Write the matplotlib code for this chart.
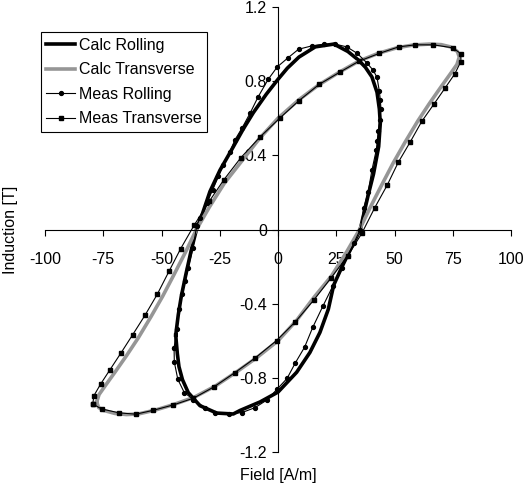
import matplotlib
matplotlib.use("Agg")
import matplotlib.pyplot as plt

plt.rcParams['font.family'] = ['Liberation Sans', 'DejaVu Sans']

# calculated loop, rolling direction (H in A/m, B in T)
calc_roll_h = [-43.9, -43.2, -42.5, -41.0, -38.5, -33.5, -26.3, -19.2, -16.3, -7.7, 0.0, 8.0, 13.7,
               18.0, 21.6, 23.9, 27.5, 31.0, 35.3, 38.6, 41.0, 43.2, 43.9, 43.5, 42.5, 40.3,
               37.5, 34.6, 30.0, 24.0, 16.0, 9.0, 4.0, 0.0, -5.0, -10.6, -15.0, -19.9, -24.9,
               -29.2, -32.7, -35.0, -37.2, -39.5, -41.5, -42.8, -43.9]
calc_roll_b = [-0.57, -0.67, -0.74, -0.81, -0.88, -0.95, -0.99, -0.995, -0.976, -0.93, -0.877, -0.77, -0.663,
               -0.555, -0.43, -0.30, -0.20, -0.11, 0.0, 0.18, 0.30, 0.447, 0.573, 0.65, 0.74, 0.823,
               0.875, 0.913, 0.96, 1.0, 0.985, 0.93, 0.87, 0.81, 0.73, 0.63, 0.54, 0.43, 0.32,
               0.205, 0.075, 0.0, -0.11, -0.24, -0.36, -0.46, -0.57]

# calculated loop, transverse direction
calc_trans_h = [-77.8, -77.0, -75.0, -70.0, -65.0, -60.0, -53.0, -45.0, -36.0, -27.0, -18.0, -9.0, 0.0,
                8.0, 15.5, 23.0, 29.5, 35.0, 39.5, 44.5, 49.5, 54.5, 60.0, 65.0, 70.0, 74.0, 76.8,
                77.8, 77.0, 74.0, 70.0, 65.0, 58.0, 51.0, 43.0, 35.0, 26.5, 17.5, 9.0, 0.0, -8.0,
                -15.5, -23.0, -29.5, -35.0, -39.5, -44.5, -49.5, -54.5, -60.0, -65.0, -70.0, -74.0,
                -76.8, -77.8]
calc_trans_b = [-0.93, -0.96, -0.975, -0.992, -0.998, -0.995, -0.975, -0.945, -0.905, -0.845, -0.77, -0.69, -0.60,
                -0.49, -0.365, -0.25, -0.12, 0.0, 0.117, 0.24, 0.36, 0.47, 0.585, 0.68, 0.77, 0.84, 0.89,
                0.93, 0.96, 0.985, 0.997, 1.0, 0.995, 0.98, 0.95, 0.91, 0.85, 0.78, 0.70, 0.60, 0.49,
                0.37, 0.25, 0.12, 0.0, -0.117, -0.24, -0.36, -0.47, -0.585, -0.68, -0.77, -0.84,
                -0.89, -0.93]

# measured loop, rolling direction
meas_roll_h = [-44.6, -44.5, -43.0, -40.2, -36.3, -31.5, -27.0, -21.1, -15.4, -9.9, -4.8, -0.3, 3.9,
               7.5, 11.4, 14.9, 19.2, 23.6, 27.5, 30.0, 32.5, 35.3, 36.8, 38.7, 40.3, 42.2, 42.6,
               43.0, 43.6, 44.2, 43.9, 43.5, 42.5, 40.8, 38.0, 34.0, 29.5, 24.5, 19.9, 14.4, 8.8,
               4.3, -0.3, -4.2, -8.5, -12.0, -15.4, -18.5, -20.6, -23.5, -25.6, -28.0, -30.6,
               -33.5, -34.9, -36.5, -38.5, -39.9, -41.3, -42.4, -43.5, -44.6]
meas_roll_b = [-0.64, -0.715, -0.808, -0.88, -0.917, -0.96, -0.987, -0.995, -0.987, -0.961, -0.92, -0.86, -0.803,
               -0.718, -0.635, -0.528, -0.415, -0.303, -0.21, -0.141, -0.075, 0.0, 0.116, 0.203, 0.32, 0.43, 0.48,
               0.53, 0.59, 0.65, 0.70, 0.745, 0.82, 0.86, 0.90, 0.95, 0.985, 1.0, 1.0, 0.99, 0.972,
               0.926, 0.877, 0.81, 0.716, 0.627, 0.548, 0.483, 0.42, 0.35, 0.286, 0.215, 0.143,
               0.063, 0.018, -0.10, -0.206, -0.278, -0.35, -0.43, -0.535, -0.64]

# measured loop, transverse direction
meas_trans_h = [-79.5, -75.7, -68.1, -61.0, -53.5, -44.9, -36.3, -27.5, -18.5, -9.9, -0.6, 7.5, 15.4,
                22.7, 30.0, 36.0, 41.5, 46.9, 51.6, 56.7, 61.7, 66.9, 71.6, 75.9, 78.5, 78.5, 75.0,
                66.6, 59.0, 51.8, 43.5, 34.8, 26.6, 17.7, 9.0, 0.7, -7.7, -15.9, -23.2, -29.5, -36.0,
                -41.8, -46.8, -51.8, -57.1, -62.4, -67.4, -72.1, -76.1, -79.0, -79.5]
meas_trans_b = [-0.941, -0.968, -0.989, -0.996, -0.975, -0.946, -0.91, -0.849, -0.772, -0.694, -0.599, -0.497, -0.38,
                -0.262, -0.141, -0.02, 0.117, 0.24, 0.362, 0.471, 0.583, 0.676, 0.761, 0.84, 0.906, 0.948, 0.98,
                0.996, 0.996, 0.985, 0.95, 0.908, 0.849, 0.783, 0.695, 0.60, 0.499, 0.388, 0.269, 0.152, 0.023,
                -0.104, -0.226, -0.349, -0.463, -0.568, -0.666, -0.756, -0.833, -0.896, -0.941]

x_ticks = [-100, -75, -50, -25, 0, 25, 50, 75, 100]
y_ticks = [-1.2, -0.8, -0.4, 0, 0.4, 0.8, 1.2]
y_tick_labels = ['-1.2', '-0.8', '-0.4', '0', '0.4', '0.8', '1.2']
x_tick_labels = ['-100', '-75', '-50', '-25', '0', '25', '50', '75', '100']

fig = plt.figure(figsize=(5.24, 4.88), dpi=100)
ax = fig.add_axes([45 / 524, 36 / 488, 466 / 524, 445 / 488])

ax.plot(calc_roll_h, calc_roll_b, color='black', lw=2.6, label='Calc Rolling')
ax.plot(calc_trans_h, calc_trans_b, color='#969696', lw=2.6, label='Calc Transverse')
ax.plot(meas_roll_h, meas_roll_b, color='black', lw=0.8, marker='o', ms=2.8,
        label='Meas Rolling')
ax.plot(meas_trans_h, meas_trans_b, color='black', lw=0.8, marker='s', ms=3.3,
        label='Meas Transverse')

ax.set_xlim(-100, 100)
ax.set_ylim(-1.2, 1.2)
ax.spines['left'].set_position(('data', 0))
ax.spines['bottom'].set_position(('data', 0))
ax.spines['top'].set_visible(False)
ax.spines['right'].set_visible(False)
for s in ['left', 'bottom']:
    ax.spines[s].set_linewidth(0.8)

ax.set_xticks(x_ticks)
ax.set_xticklabels(x_tick_labels)
ax.set_yticks(y_ticks)
ax.set_yticklabels(y_tick_labels)
ax.tick_params(axis='x', direction='out', length=4, width=0.8, pad=12, labelsize=11.5)
ax.tick_params(axis='y', direction='out', length=4, width=0.8, pad=4, labelsize=11.5)

ax.text(0.5, -0.052, 'Field [A/m]', transform=ax.transAxes, ha='center', va='center',
        fontsize=11.5)
ax.text(-0.075, 0.5, 'Induction [T]', transform=ax.transAxes, ha='center', va='center',
        rotation=90, fontsize=11.5)

leg = ax.legend(loc='upper left', bbox_to_anchor=(-0.009, 0.944), borderaxespad=0,
                fontsize=11.5, fancybox=False, framealpha=1, edgecolor='black',
                handlelength=1.8, handletextpad=0.25, labelspacing=0.6,
                borderpad=0.35)
leg.get_frame().set_linewidth(0.8)

fig.savefig('out.png', dpi=100)
